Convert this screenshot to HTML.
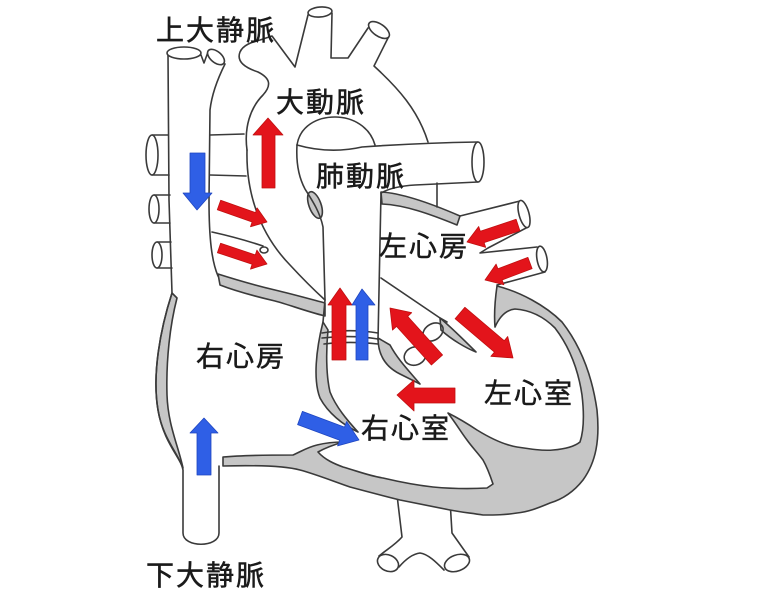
<!DOCTYPE html>
<html><head><meta charset="utf-8"><style>
html,body{margin:0;padding:0;background:#fff;}
svg{display:block;}
text{font-family:"Liberation Sans","Noto Sans CJK JP",sans-serif;font-size:28px;fill:#1a1a1a;stroke:#1a1a1a;stroke-width:0.5px;letter-spacing:2px;}
</style></head><body>
<svg width="780" height="593" viewBox="0 0 780 593" xmlns="http://www.w3.org/2000/svg">
<rect width="780" height="593" fill="#fff"/>
<g fill="none" stroke="#3a3a3a" stroke-width="1.6" stroke-linejoin="round" stroke-linecap="round">
  <!-- bifurcation below heart -->
  <path d="M397,495 L402,537 C395,545 386,550 379,556"/>
  <ellipse cx="388" cy="563" rx="11" ry="8" transform="rotate(25 388 563)" fill="#fff"/>
  <path d="M399,567 C405,560 412,554 420,553 C428,554 436,562 444,570"/>
  <ellipse cx="457" cy="563" rx="13" ry="8" transform="rotate(-20 457 563)" fill="#fff"/>
  <path d="M469,557 L452,533 L450,500"/>

  <!-- big gray band: RA floor, RV floor, septum, LV wall -->
  <path fill="#c6c6c6" d="M223,457 C245,455 275,455 293,455 C300,452 308,447 317,445 C325,443 335,442 343,442 C333,445 325,448 318,452 C325,460 335,464 343,467 C360,472 370,476 383,478 C400,482 415,485 433,487 C455,489 470,489 487,488 L493,484 C490,475 487,467 483,460 C477,452 472,447 467,440 C461,432 457,425 448,413 C458,418 468,424 477,430 C490,438 505,445 517,447 C530,449 543,451 553,450 C565,449 574,447 580,442 C584,430 584,412 582,395 C578,368 568,345 555,328 C543,316 530,310 515,309 C505,310 499,318 495,327 C494,315 495,300 497,286 C520,292 545,305 562,322 C580,345 592,375 597,410 C600,440 596,462 583,480 C572,494 560,500 550,503 C538,508 528,512 517,513 C505,515 495,515 483,515 C470,513 460,512 450,510 C430,506 415,503 400,500 C380,495 365,491 350,487 C330,480 315,474 300,470 C285,466 260,465 223,466 Z"/>

  <!-- RA crescent -->
  <path fill="#c6c6c6" d="M172,293 C160,330 152,375 158,410 C163,440 178,455 183,468 C178,445 168,425 167,395 C166,360 170,325 177,298 Z"/>
  <!-- RA / aorta band -->
  <path fill="#c6c6c6" d="M218,274 C240,281 258,286 275,290 C292,294 310,299 325,303 L325,316 C305,311 290,305 275,301 C258,297 238,292 220,285 Z"/>
  <!-- LA top band -->
  <path fill="#c6c6c6" d="M381,192 C400,193 430,203 460,216 L457,225 C430,214 405,205 382,204 Z"/>
  <!-- gray oval near aortic root -->
  <ellipse cx="315" cy="205" rx="6" ry="14" transform="rotate(-20 315 205)" fill="#c6c6c6"/>
  <!-- tricuspid sliver -->
  <path fill="#c6c6c6" d="M323,322 C316,350 313,380 320,398 C328,413 343,425 358,432 C347,420 336,407 330,392 C326,375 326,350 328,330 Z"/>
  <!-- outflow sliver -->
  <path fill="#c6c6c6" d="M378,338 C378,355 386,367 400,374 C408,378 414,381 420,384 C410,372 398,360 390,345 Z"/>
  <!-- mitral leaflet -->
  <path fill="#c6c6c6" d="M440,318 C452,328 464,340 476,352 C466,348 452,340 441,330 Z"/>

  <!-- SVC / RA / IVC left contour -->
  <path d="M168,54 L169,200 L172,293 C160,330 152,375 158,410 C163,440 180,455 183,470 L183,533 C183,548 219,548 219,533 L219,466"/>
  <!-- SVC right contour -->
  <path d="M225,64 C219,76 212,92 210,110 L209,200 C209,240 212,262 218,276"/>
  <path d="M201,55 L204,63 L208,52"/>
  <ellipse cx="184" cy="53" rx="17" ry="6" fill="#fff"/>
  <ellipse cx="216" cy="57" rx="10" ry="5.5" transform="rotate(40 216 57)" fill="#fff"/>

  <!-- left tubes -->
  <path d="M152,135 L168,135 M152,175 L169,175 M154,195 L170,195 M154,223 L170,223 M157,242 L171,242 M157,268 L172,268"/>
  <ellipse cx="152" cy="155" rx="6" ry="20" fill="#fff"/>
  <ellipse cx="154" cy="209" rx="5" ry="14" fill="#fff"/>
  <ellipse cx="157" cy="255" rx="5" ry="13" fill="#fff"/>
  <!-- RPA between SVC and aorta -->
  <path d="M210,135 L244,134 M210,175 L246,176"/>
  <path d="M212,232 C230,236 248,241 263,246"/>
  <ellipse cx="264" cy="250" rx="4" ry="3"/>

  <!-- aorta & arch -->
  <path d="M247,150 C244,128 250,108 263,95 C272,85 270,78 258,72 C246,68 236,62 240,52 C243,45 252,42 260,40 L272,36 L295,67 L308,15"/>
  <ellipse cx="320" cy="12" rx="12" ry="5" transform="rotate(-5 320 12)" fill="#fff"/>
  <path d="M332,13 L331,58 L348,58 L368,28"/>
  <ellipse cx="379" cy="30" rx="12" ry="6" transform="rotate(35 379 30)" fill="#fff"/>
  <path d="M388,38 L374,66 C398,88 418,110 428,142"/>
  <path d="M247,150 C246,190 258,232 290,265 C302,278 314,290 325,300"/>
  <!-- inner arch -->
  <path d="M297,145 C300,126 317,117 335,117 C353,117 370,127 375,145"/>
  <!-- pulmonary artery -->
  <path d="M297,145 C318,151 340,152 362,147 C390,145 420,143 478,142"/>
  <path d="M478,182 L415,185 C398,186 388,189 381,193"/>
  <ellipse cx="478" cy="162" rx="6" ry="20" fill="#fff"/>
  <path d="M297,145 C296,162 298,176 305,189 C312,200 320,212 323,227 L325,300 L323,322"/>
  <path d="M381,193 L378,340"/>
  <path d="M437,183 L437,207"/>
  <path d="M381,278 L440,318 L447,322"/>
  <!-- left pulmonary veins -->
  <path d="M460,216 L520,201 M528,227 L488,248 L480,253 L537,247 M545,272 L497,285"/>
  <ellipse cx="524" cy="214" rx="5" ry="14" transform="rotate(-15 524 214)" fill="#fff"/>
  <ellipse cx="542" cy="259" rx="5" ry="13" transform="rotate(-10 542 259)" fill="#fff"/>
  <!-- pulmonary valve lines -->
  <path d="M322,333 C340,330 360,330 378,333 M322,338 C340,336 360,336 378,339 M324,344 C340,342 360,342 378,344"/>
  <!-- aortic valve ellipses -->
  <ellipse cx="433" cy="332" rx="11" ry="8" transform="rotate(-35 433 332)"/>
  <ellipse cx="415" cy="356" rx="11" ry="9" transform="rotate(-20 415 356)"/>
</g>

<!-- arrows -->
<g fill="#e3141b" stroke="#c01010" stroke-width="0.8" stroke-linejoin="round">
  <polygon points="262,188 262,135 253,135 268,118 283,135 275,135 275,188"/>
  <polygon points="332,360 332,305 328,305 340,288 352,305 346,305 346,360"/>
  <polygon points="217.3,209.7 252.1,222.0 250.5,226.7 267,222 257.1,207.9 255.5,212.6 220.7,200.3"/>
  <polygon points="217.4,252.7 252.1,264.3 250.5,269.1 267,264 256.9,250.1 255.3,254.9 220.6,243.3"/>
  <polygon points="516.1,219.3 480.3,231.3 478.7,226.5 467,242 485.7,247.4 484.1,242.6 519.9,230.7"/>
  <polygon points="527.9,257.4 497.9,268.8 496.1,264.1 485,280 503.9,284.7 502.1,280.0 532.1,268.6"/>
  <polygon points="442.6,355.0 407.7,316.4 411.7,312.7 390,308 392.5,330.1 396.5,326.4 431.4,365.0"/>
  <polygon points="455.1,318.7 494.4,352.1 490.9,356.3 513,358 507.7,336.5 504.2,340.7 464.9,307.3"/>
  <polygon points="455,388 414,388 414,380 397,395 414,411 414,403 455,403"/>
</g>
<g fill="#2f5fe6" stroke="#1f46c0" stroke-width="0.8" stroke-linejoin="round">
  <polygon points="190,153 205,153 205,193 212,193 197,210 183,193 190,193"/>
  <polygon points="197,475 197,433 190,433 204,418 218,433 211,433 211,475"/>
  <polygon points="356,360 356,305 352,305 362,289 375,305 368,305 368,360"/>
  <polygon points="297.6,424.6 339.7,440.3 337.6,445.9 359,440 346.6,421.5 344.5,427.1 302.4,411.4"/>
</g>

<!-- labels -->
<text x="156" y="40">上大静脈</text>
<text x="276" y="112">大動脈</text>
<text x="316" y="186">肺動脈</text>
<text x="379" y="256">左心房</text>
<text x="196" y="366">右心房</text>
<text x="484" y="403">左心室</text>
<text x="361" y="438">右心室</text>
<text x="146" y="585">下大静脈</text>
</svg>
</body></html>
